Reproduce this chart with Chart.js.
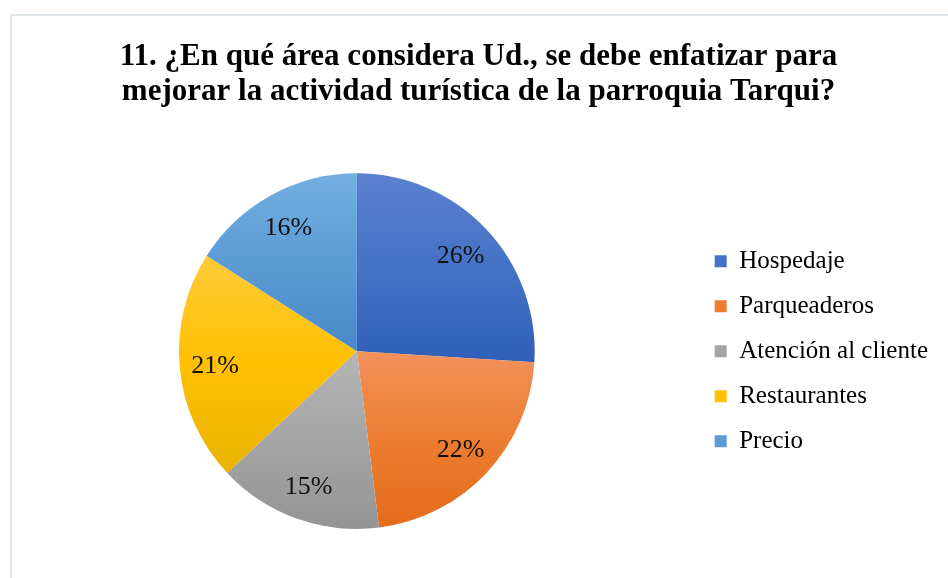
<!DOCTYPE html>
<html>
<head>
<meta charset="utf-8">
<script src="https://cdn.jsdelivr.net/npm/chart.js@4"></script>
<style>
  html, body { margin: 0; padding: 0; background: #fff; }
  #wrap { position: relative; width: 948px; height: 578px; overflow: hidden; }
  #frame { position: absolute; left: 10px; top: 14px; right: -5px; bottom: -5px;
           border-left: 2px solid #dfe4ec; border-top: 2px solid #dfe4ec; }
  #chart-pie { position: absolute; left: 0; top: 0; }
</style>
</head>
<body>
<div id="wrap">
  <div id="frame"></div>
  <canvas id="chart-pie" width="948" height="578"></canvas>
</div>
<script>
const titleLines = ['11. ¿En qué área considera Ud., se debe enfatizar para',
                    'mejorar la actividad turística de la parroquia Tarqui?'];
const categories = ['Hospedaje', 'Parqueaderos', 'Atención al cliente', 'Restaurantes', 'Precio'];
const percentages = [26, 22, 15, 21, 16];

// office-like colours: light / base / dark for each slice
const baseColors  = ['#4472c4', '#ed7d31', '#a5a5a5', '#ffc000', '#5b9bd5'];
const lightColors = ['#5b80cf', '#f2925c', '#b5b5b5', '#ffca3a', '#72aee0'];
const darkColors  = ['#2f5fb9', '#e36c1a', '#949494', '#e8b300', '#4a89c9'];

const serif = "'Liberation Serif', 'Times New Roman', serif";

// vertical gradient over the bounding box of each slice
function sliceGradient(context) {
    const chart = context.chart;
    const area = chart.chartArea;
    const i = context.dataIndex;
    if (!area || i === undefined) return baseColors[i] || '#999';
    const cx = (area.left + area.right) / 2;
    const cy = (area.top + area.bottom) / 2;
    const r = Math.min(area.right - area.left, area.bottom - area.top) / 2;
    const total = percentages.reduce((a, b) => a + b, 0);
    let before = 0;
    for (let k = 0; k < i; k++) before += percentages[k];
    const a0 = -Math.PI / 2 + before / total * 2 * Math.PI;
    const a1 = a0 + percentages[i] / total * 2 * Math.PI;
    let ys = [cy, cy + r * Math.sin(a0), cy + r * Math.sin(a1)];
    // include top / bottom of circle if the slice passes through them
    [-Math.PI / 2, Math.PI / 2, 3 * Math.PI / 2].forEach(a => {
        if (a >= a0 && a <= a1) ys.push(cy + r * Math.sin(a));
    });
    const yTop = Math.min(...ys), yBot = Math.max(...ys);
    const g = chart.ctx.createLinearGradient(0, yTop, 0, yBot);
    g.addColorStop(0, lightColors[i]);
    g.addColorStop(0.5, baseColors[i]);
    g.addColorStop(1, darkColors[i]);
    return g;
}

// draws the percentage inside each slice
const pieLabels = {
    id: 'pieLabels',
    afterDatasetsDraw(chart) {
        const ctx = chart.ctx;
        const meta = chart.getDatasetMeta(0);
        ctx.save();
        ctx.font = '26px ' + serif;
        ctx.fillStyle = '#111';
        ctx.textAlign = 'center';
        ctx.textBaseline = 'middle';
        meta.data.forEach((arc, i) => {
            const p = arc.getProps(['x', 'y', 'startAngle', 'endAngle', 'outerRadius'], true);
            const mid = (p.startAngle + p.endAngle) / 2;
            const d = p.outerRadius * 0.8;
            ctx.fillText(percentages[i] + '%', p.x + Math.cos(mid) * d, p.y + Math.sin(mid) * d + 2);
        });
        ctx.restore();
    }
};

const ctx = document.getElementById('chart-pie').getContext('2d');
const chartPie = new Chart(ctx, {
    type: 'pie',
    data: {
        labels: categories,
        datasets: [{
            data: percentages,
            backgroundColor: sliceGradient,
            borderWidth: 0
        }]
    },
    options: {
        responsive: false,
        animation: false,
        layout: {
            padding: { left: 19, right: 10, top: 0, bottom: 49 }
        },
        plugins: {
            title: {
                display: true,
                text: titleLines,
                color: '#000',
                font: { family: serif, size: 31, weight: 'bold', lineHeight: 1.15 },
                padding: { top: 39, bottom: 63 }
            },
            legend: {
                position: 'right',
                fullSize: false,
                labels: {
                    color: '#111',
                    font: { family: serif, size: 25 },
                    boxWidth: 12,
                    boxHeight: 12,
                    padding: 20,
                    generateLabels: function(chart) {
                        return categories.map((c, i) => ({
                            text: c,
                            fillStyle: baseColors[i],
                            strokeStyle: baseColors[i],
                            lineWidth: 0,
                            hidden: false,
                            index: i
                        }));
                    }
                }
            },
            tooltip: { enabled: false }
        }
    },
    plugins: [pieLabels]
});
</script>
</body>
</html>
